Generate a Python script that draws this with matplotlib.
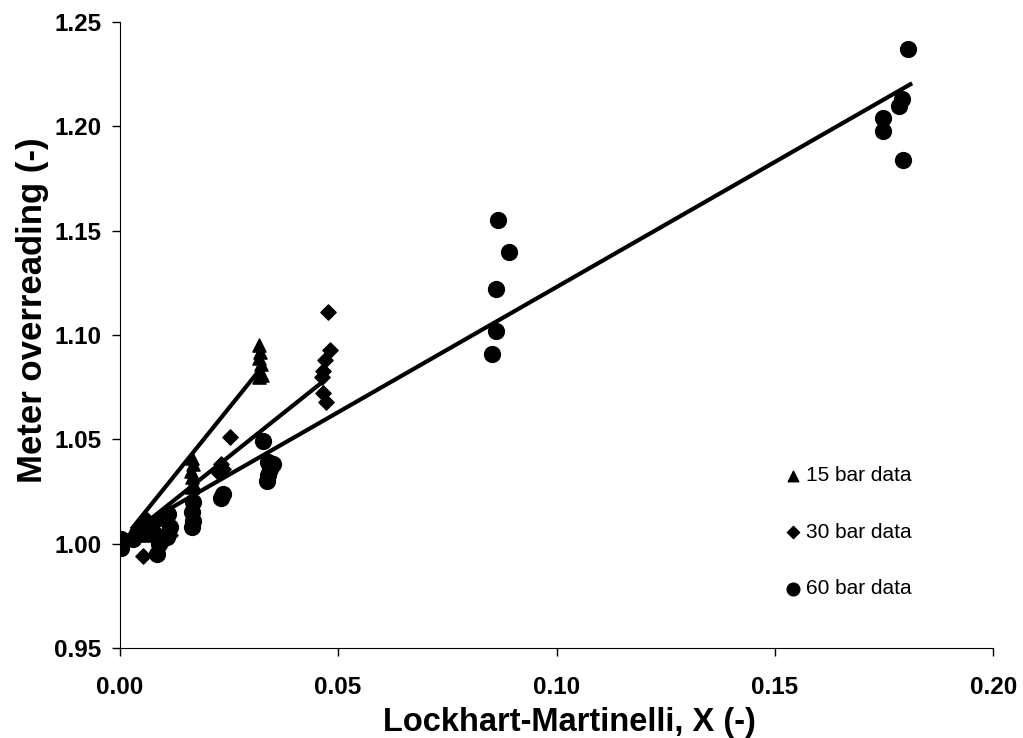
import matplotlib
matplotlib.use("Agg")
import matplotlib.pyplot as plt
import numpy as np

plt.rcParams['font.family'] = ['Liberation Sans', 'DejaVu Sans']

# 15 bar data
x15 = [0.0320, 0.0322, 0.0318, 0.0323, 0.0320, 0.0325, 0.0318,
       0.0165, 0.0167, 0.0163, 0.0166, 0.0168, 0.0165,
       0.0055, 0.0060, 0.0050, 0.0065, 0.0058, 0.0030, 0.0100, 0.0105]
y15 = [1.095, 1.092, 1.089, 1.086, 1.083, 1.081, 1.080,
       1.041, 1.038, 1.035, 1.032, 1.029, 1.027,
       1.012, 1.010, 1.008, 1.006, 1.004, 1.003, 1.012, 1.008]

# 30 bar data
x30 = [0.0477, 0.0481, 0.0470, 0.0466, 0.0462, 0.0465, 0.0472,
       0.0252, 0.0232, 0.0236, 0.0228, 0.0053,
       0.0045, 0.0060, 0.0080, 0.0085, 0.0110, 0.0115, 0.0100, 0.0035, 0.0095]
y30 = [1.111, 1.093, 1.088, 1.083, 1.080, 1.072, 1.068,
       1.051, 1.038, 1.036, 1.034, 0.994,
       1.008, 1.012, 1.010, 1.005, 1.010, 1.004, 1.012, 1.004, 1.000]

# 60 bar data
x60 = [0.1805, 0.1790, 0.1785, 0.1748, 0.1748, 0.1794,
       0.0866, 0.0891, 0.0861, 0.0861, 0.0852,
       0.0328, 0.0340, 0.0345, 0.0340, 0.0338, 0.0350,
       0.0236, 0.0232, 0.0167, 0.0165, 0.0168, 0.0166,
       0.0110, 0.0115, 0.0108, 0.0085, 0.0090, 0.0080,
       0.0003, 0.0003, 0.0040, 0.0030]
y60 = [1.237, 1.213, 1.210, 1.204, 1.198, 1.184,
       1.155, 1.140, 1.122, 1.102, 1.091,
       1.049, 1.039, 1.036, 1.033, 1.030, 1.038,
       1.024, 1.022, 1.020, 1.015, 1.011, 1.008,
       1.014, 1.008, 1.003, 0.995, 1.000, 1.004,
       1.002, 0.998, 1.005, 1.002]

# trend lines: (slope, intercept, x start, x end)
fit15 = (2.6, 1.000, 0.003, 0.032)
fit30 = (1.67, 1.000, 0.003, 0.047)
fit60 = (1.20, 1.003, 0.004, 0.181)

fig = plt.figure(figsize=(10.23, 7.38), dpi=100)
ax = fig.add_axes([0.117, 0.122, 0.854, 0.848])

ax.scatter(x15, y15, marker='^', s=90, color='black', label='15 bar data', zorder=3)
ax.scatter(x30, y30, marker='D', s=60, color='black', label='30 bar data', zorder=3)
ax.scatter(x60, y60, marker='o', s=130, color='black', label='60 bar data', zorder=3)

for k, b, x0, x1 in [fit15, fit30, fit60]:
    xs = np.array([x0, x1])
    ax.plot(xs, k * xs + b, color='black', lw=3, zorder=2)

ax.set_xlim(0, 0.20)
ax.set_ylim(0.95, 1.25)
ax.set_xticks(np.arange(0, 0.201, 0.05))
ax.set_yticks(np.arange(0.95, 1.251, 0.05))
ax.xaxis.set_major_formatter(matplotlib.ticker.FormatStrFormatter('%.2f'))
ax.yaxis.set_major_formatter(matplotlib.ticker.FormatStrFormatter('%.2f'))
ax.tick_params(direction='out', length=6, width=1, labelsize=17.5)
ax.tick_params(axis='x', pad=14)
ax.tick_params(axis='y', pad=7)
for lab in ax.get_xticklabels() + ax.get_yticklabels():
    lab.set_fontweight('bold')

ax.spines['top'].set_visible(False)
ax.spines['right'].set_visible(False)

ax.set_xlabel('Lockhart-Martinelli, X (-)', fontsize=23.5, fontweight='bold',
              labelpad=6, x=0.515)
ax.set_ylabel('Meter overreading (-)', fontsize=25, fontweight='bold',
              labelpad=4, y=0.54)

ax.legend(loc=(0.754, 0.066), frameon=False, fontsize=15, labelspacing=1.8,
          handlelength=0.6, handletextpad=0.3, markerscale=0.8)

fig.savefig('out.png', dpi=100)
